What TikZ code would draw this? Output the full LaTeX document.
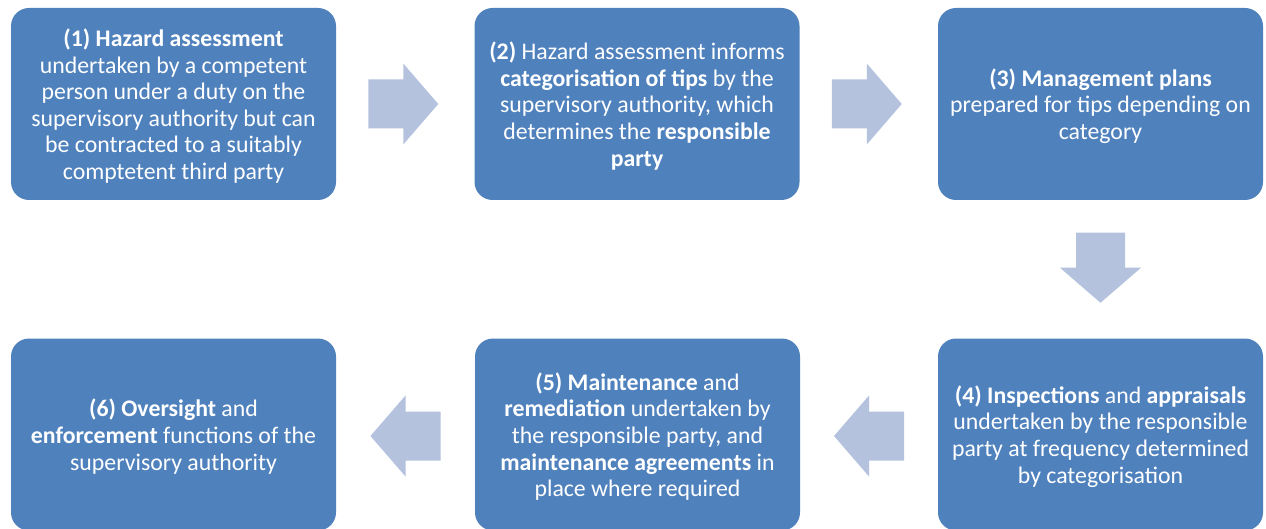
\documentclass[tikz,border=0pt]{standalone}
\usepackage{fontspec}
\setmainfont{Carlito}
\usetikzlibrary{calc}
\definecolor{stepblue}{RGB}{79,129,189}
\definecolor{arrowblue}{RGB}{180,194,222}
\tikzset{
  stepbox/.style={rectangle, rounded corners=18pt, fill=stepblue, draw=none,
    minimum width=325pt, minimum height=192pt, inner sep=0pt,
    text=white, align=center,
    font=\fontsize{23.8pt}{26.6pt}\selectfont},
  steptext/.style={inner sep=0pt, text=white, align=center,
    font=\fontsize{23.8pt}{26.6pt}\selectfont},
  pics/blockarrow/.style={code={
    \fill[arrowblue] (-35pt,-24.5pt) -- (0pt,-24.5pt) -- (0pt,-40.5pt) -- (35pt,0pt)
      -- (0pt,40.5pt) -- (0pt,24.5pt) -- (-35pt,24.5pt) -- cycle;
  }}
}
\begin{document}
\begin{tikzpicture}[x=1pt,y=-1pt]
\useasboundingbox (0,0) rectangle (1266,529);

\node[stepbox] (b1) at (173.5,104) {};
\node[stepbox] (b2) at (637,104) {};
\node[stepbox] (b3) at (1100.5,104) {};
\node[stepbox] (b4) at (1100.5,434.5) {};
\node[stepbox] (b5) at (637.5,434.5) {};
\node[stepbox] (b6) at (173.5,434.5) {};

% step texts, set slightly below each box centre
\node[steptext] (t1) at ($(b1.center)+(0,2)$) {\textbf{(1) Hazard assessment}\\ undertaken by a competent\\ person under a duty on the\\ supervisory authority but can\\ be contracted to a suitably\\ comptetent third party};
\node[steptext] (t2) at ($(b2.center)+(0,2)$) {\textbf{(2)} Hazard assessment informs\\ \textbf{categorisation of tips} by the\\ supervisory authority, which\\ determines the \textbf{responsible}\\ \textbf{party}};
\node[steptext] (t3) at ($(b3.center)+(0,2)$) {\textbf{(3) Management plans}\\ prepared for tips depending on\\ category};
\node[steptext] (t4) at ($(b4.center)+(0,2)$) {\textbf{(4) Inspections} and \textbf{appraisals}\\ undertaken by the responsible\\ party at frequency determined\\ by categorisation};
\node[steptext] (t5) at ($(b5.center)+(0,2)$) {\textbf{(5) Maintenance} and\\ \textbf{remediation} undertaken by\\ the responsible party, and\\ \textbf{maintenance agreements} in\\ place where required};
\node[steptext] (t6) at ($(b6.center)+(0,2)$) {\textbf{(6) Oversight} and\\ \textbf{enforcement} functions of the\\ supervisory authority};

% block arrows between consecutive steps
\pic at ($(b1.east)!0.5!(b2.west)+(-2,0)$) {blockarrow};
\pic at ($(b2.east)!0.5!(b3.west)+(-2,0)$) {blockarrow};
\pic[rotate=-90] at ($(b3.south)!0.5!(b4.north)+(0,-1.5)$) {blockarrow};
\pic[rotate=180] at ($(b4.west)!0.5!(b5.east)+(0,1.5)$) {blockarrow};
\pic[rotate=180] at ($(b5.west)!0.5!(b6.east)+(0,1.5)$) {blockarrow};
\end{tikzpicture}
\end{document}
